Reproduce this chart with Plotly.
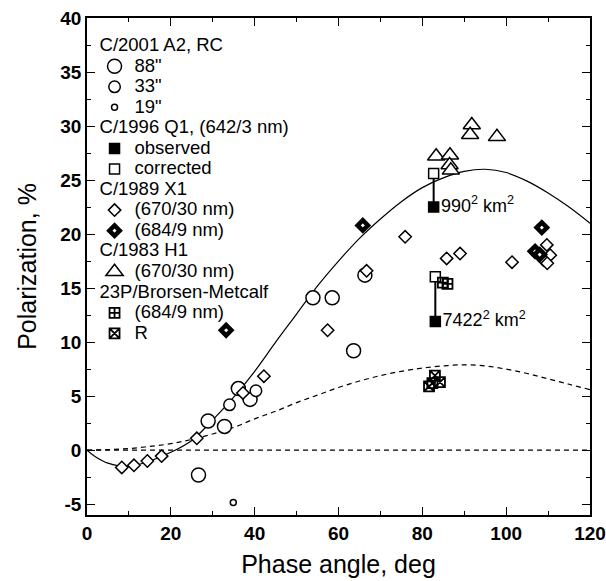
import plotly.graph_objects as go

# ---- Curves ----
curve_x = [0, 2, 5, 10, 15, 20, 25, 30, 35, 40, 45, 50, 55, 60, 65, 70, 75, 80, 85, 90, 95, 100, 105, 110, 115, 120]
solid_y = [0, -0.6, -1.2, -1.5, -1.0, -0.2, 0.9, 2.8, 4.9, 7.3, 10.0, 12.6, 15.2, 17.5, 19.6, 21.4, 23.0, 24.3, 25.2, 25.8, 26.0, 25.7, 24.9, 23.8, 22.5, 21.0]
dash_x = [0, 5, 10, 15, 20, 25, 30, 35, 40, 45, 50, 55, 60, 65, 70, 75, 80, 85, 90, 95, 100, 105, 110, 115, 120]
dash_y = [0, 0.05, 0.15, 0.35, 0.6, 1.0, 1.5, 2.1, 2.9, 3.6, 4.4, 5.1, 5.8, 6.4, 6.9, 7.3, 7.6, 7.8, 7.9, 7.8, 7.5, 7.1, 6.6, 6.1, 5.6]
zero_x = [0, 120]
zero_y = [0, 0]

# ---- C/2001 A2 circles ----
c88_x = [26.6, 28.9, 32.8, 36.1, 38.9, 53.9, 58.5, 63.6, 66.3]
c88_y = [-2.3, 2.7, 2.2, 5.7, 4.7, 14.1, 14.1, 9.2, 16.2]
c33_x = [34.0, 40.3]
c33_y = [4.2, 5.5]
c19_x = [34.9]
c19_y = [-4.85]

# ---- C/1996 Q1 squares ----
obs_x = [82.7, 83.1]
obs_y = [22.5, 11.9]
cor_x = [82.7, 83.1]
cor_y = [25.6, 16.05]
obs_labels = ["990<sup>2</sup> km<sup>2</sup>", "7422<sup>2</sup> km<sup>2</sup>"]

# ---- C/1989 X1 diamonds ----
d670_x = [8.3, 11.2, 14.4, 17.8, 26.2, 37.2, 42.2, 57.4, 66.7, 75.9, 85.8, 89.0, 101.4, 109.7, 110.5, 108.9, 109.8]
d670_y = [-1.6, -1.4, -1.0, -0.55, 1.1, 5.3, 6.85, 11.1, 16.6, 19.75, 17.75, 18.2, 17.4, 19.0, 18.05, 17.6, 17.3]
d684_x = [33.2, 65.8, 108.5, 106.9, 108.0]
d684_y = [11.1, 20.8, 20.6, 18.4, 18.1]

# ---- C/1983 H1 triangles ----
t670_x = [91.8, 91.4, 97.8, 83.3, 86.6, 86.5, 86.8]
t670_y = [30.1, 29.2, 29.0, 27.2, 27.3, 26.4, 25.9]

# ---- 23P/Brorsen-Metcalf ----
b684_x = [84.9, 86.0]
b684_y = [15.5, 15.4]
bR_x = [83.0, 84.2, 81.6, 82.4]
bR_y = [6.9, 6.3, 5.9, 6.2]

x_ticks = [0, 20, 40, 60, 80, 100, 120]
y_ticks = [-5, 0, 5, 10, 15, 20, 25, 30, 35, 40]

FONT = "Liberation Sans, Arial, sans-serif"
BLK = "black"


def big(t):
    return "<span style='font-size:18.5px'>" + t + "</span>"


fig = go.Figure()

# curves
fig.add_trace(go.Scatter(x=curve_x, y=solid_y, mode="lines", line=dict(color=BLK, width=1.2, shape="spline"), showlegend=False))
fig.add_trace(go.Scatter(x=dash_x, y=dash_y, mode="lines", line=dict(color=BLK, width=1.2, dash="5px,4px", shape="spline"), showlegend=False))
fig.add_trace(go.Scatter(x=zero_x, y=zero_y, mode="lines", line=dict(color=BLK, width=1.2, dash="5px,4px"), showlegend=False))

# connecting lines for C/1996 Q1
for i in range(len(obs_x)):
    fig.add_trace(go.Scatter(x=[cor_x[i], obs_x[i]], y=[cor_y[i], obs_y[i]], mode="lines",
                             line=dict(color=BLK, width=2), showlegend=False))


def mk(symbol, size, fill="white", lw=1.5):
    return dict(symbol=symbol, size=size, color=fill, line=dict(color=BLK, width=lw))


GT = dict(family=FONT, size=13.5, color=BLK)

g1 = dict(legendgroup="g1", legendgrouptitle=dict(text=big("C/2001 A2, RC"), font=GT))
fig.add_trace(go.Scatter(x=c88_x, y=c88_y, mode="markers", name=big('88"'), marker=mk("circle", 14), **g1))
fig.add_trace(go.Scatter(x=c33_x, y=c33_y, mode="markers", name=big('33"'), marker=mk("circle", 11.5), **g1))
fig.add_trace(go.Scatter(x=c19_x, y=c19_y, mode="markers", name=big('19"'), marker=mk("circle", 6), **g1))

g2 = dict(legendgroup="g2", legendgrouptitle=dict(text=big("C/1996 Q1, (642/3 nm)"), font=GT))
fig.add_trace(go.Scatter(x=obs_x, y=obs_y, mode="markers+text", name=big("observed"), marker=mk("square", 10, fill=BLK),
                         text=obs_labels, textposition="middle right", textfont=dict(family=FONT, size=18, color=BLK), **g2))
fig.add_trace(go.Scatter(x=cor_x, y=cor_y, mode="markers", name=big("corrected"), marker=mk("square", 10), **g2))

g3 = dict(legendgroup="g3", legendgrouptitle=dict(text=big("C/1989 X1"), font=GT))
fig.add_trace(go.Scatter(x=d670_x, y=d670_y, mode="markers", name=big("(670/30 nm)"), marker=mk("diamond", 9.5), **g3))
fig.add_trace(go.Scatter(x=d684_x, y=d684_y, mode="markers", name=big("(684/9 nm)"), marker=mk("diamond", 8, lw=4.5), **g3))

g4 = dict(legendgroup="g4", legendgrouptitle=dict(text=big("C/1983 H1"), font=GT))
fig.add_trace(go.Scatter(x=t670_x, y=t670_y, mode="markers", name=big("(670/30 nm)"), marker=mk("triangle-up", 15), **g4))

g5 = dict(legendgroup="g5", legendgrouptitle=dict(text=big("23P/Brorsen-Metcalf"), font=GT))
fig.add_trace(go.Scatter(x=b684_x, y=b684_y, mode="markers", name=big("(684/9 nm)"),
                         marker=dict(symbol="square-cross-open", size=10, color=BLK, line=dict(color=BLK, width=1.8)), **g5))
fig.add_trace(go.Scatter(x=bR_x, y=bR_y, mode="markers", name=big("R"),
                         marker=dict(symbol="square-x-open", size=10, color=BLK, line=dict(color=BLK, width=1.8)), **g5))

axis_common = dict(showline=True, linecolor=BLK, linewidth=1.5, mirror="ticks", ticks="inside", ticklen=8,
                   tickwidth=1.3, tickcolor=BLK, showgrid=False, zeroline=False, automargin=False,
                   tickfont=dict(family=FONT, size=19, color=BLK, weight="bold"))

fig.update_layout(
    width=606, height=581,
    margin=dict(l=87, r=16, t=18, b=66),
    paper_bgcolor="white", plot_bgcolor="white",
    font=dict(family=FONT, color=BLK),
    xaxis=dict(range=[0, 120], tickvals=x_ticks, ticktext=[str(v) for v in x_ticks],
               title=dict(text="Phase angle, deg", font=dict(family=FONT, size=25, color=BLK), standoff=13),
               minor=dict(dtick=10, ticks="inside", ticklen=4, tickcolor=BLK, showgrid=False),
               **axis_common),
    yaxis=dict(range=[-6, 40], tickvals=y_ticks, ticktext=[str(v) for v in y_ticks],
               title=dict(text="Polarization, %", font=dict(family=FONT, size=25, color=BLK), standoff=17),
               minor=dict(dtick=2.5, ticks="inside", ticklen=4, tickcolor=BLK, showgrid=False),
               **axis_common),
    legend=dict(x=0.015, y=0.975, xanchor="left", yanchor="top", bgcolor="rgba(0,0,0,0)",
                font=dict(family=FONT, size=13.5, color=BLK), tracegroupgap=0,
                grouptitlefont=GT, traceorder="grouped"),
)

fig.write_html("out.html")
